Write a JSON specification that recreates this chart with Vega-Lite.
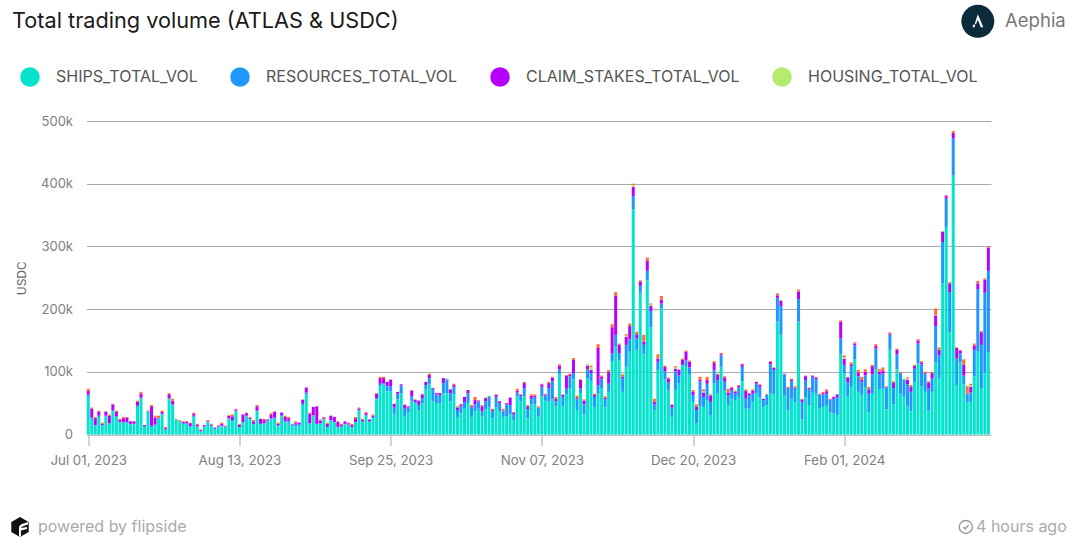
{
"$schema":"https://vega.github.io/schema/vega-lite/v6.json",
"autosize":"none",
"width":904.5,
"height":313.5,
"padding":{"left":86.5,"top":121,"right":84,"bottom":112.5},
"background":"white",
"title":{"text":"Total trading volume (ATLAS & USDC)","anchor":"start","frame":"group","dx":-74.5,"offset":-44.5,"baseline":"alphabetic","font":"Inter","fontSize":21.7,"fontWeight":"normal","color":"#1a1a1a"},
"config":{"view":{"stroke":null},"font":"Inter"},
"layer":[
{
"data":{"values":[
{"date":"2023-07-01","SHIPS":60000,"RESOURCES":4000,"CLAIM_STAKES":6000,"OTHER":3000},
{"date":"2023-07-02","SHIPS":25000,"RESOURCES":2000,"CLAIM_STAKES":14000,"OTHER":2000},
{"date":"2023-07-03","SHIPS":14000,"RESOURCES":1000,"CLAIM_STAKES":11000,"OTHER":2000},
{"date":"2023-07-04","SHIPS":28000,"RESOURCES":2000,"CLAIM_STAKES":6000,"OTHER":2000},
{"date":"2023-07-05","SHIPS":14000,"RESOURCES":1000,"CLAIM_STAKES":2000,"OTHER":2000},
{"date":"2023-07-06","SHIPS":29000,"RESOURCES":1000,"CLAIM_STAKES":6000,"OTHER":1000},
{"date":"2023-07-07","SHIPS":17000,"RESOURCES":1000,"CLAIM_STAKES":12000,"OTHER":2000},
{"date":"2023-07-08","SHIPS":37000,"RESOURCES":2000,"CLAIM_STAKES":9000,"OTHER":1000},
{"date":"2023-07-09","SHIPS":27000,"RESOURCES":2000,"CLAIM_STAKES":7000,"OTHER":2000},
{"date":"2023-07-10","SHIPS":19000,"RESOURCES":1000,"CLAIM_STAKES":3000,"OTHER":2000},
{"date":"2023-07-11","SHIPS":19000,"RESOURCES":1000,"CLAIM_STAKES":6000,"OTHER":2000},
{"date":"2023-07-12","SHIPS":19000,"RESOURCES":1000,"CLAIM_STAKES":7000,"OTHER":1000},
{"date":"2023-07-13","SHIPS":16000,"RESOURCES":1000,"CLAIM_STAKES":4000},
{"date":"2023-07-14","SHIPS":16000,"RESOURCES":1000,"CLAIM_STAKES":4000},
{"date":"2023-07-15","SHIPS":44000,"RESOURCES":2000,"CLAIM_STAKES":6000,"OTHER":2000},
{"date":"2023-07-16","SHIPS":57000,"RESOURCES":2000,"CLAIM_STAKES":6000,"OTHER":3000},
{"date":"2023-07-17","SHIPS":12000,"RESOURCES":1000,"CLAIM_STAKES":2000},
{"date":"2023-07-18","SHIPS":36000,"RESOURCES":1000,"OTHER":1000},
{"date":"2023-07-19","SHIPS":12000,"RESOURCES":2000,"CLAIM_STAKES":31000,"OTHER":2000},
{"date":"2023-07-20","SHIPS":14000,"RESOURCES":2000,"CLAIM_STAKES":11000,"OTHER":3000},
{"date":"2023-07-21","SHIPS":25000,"RESOURCES":1000,"CLAIM_STAKES":1000,"OTHER":3000},
{"date":"2023-07-22","SHIPS":32000,"RESOURCES":1000,"CLAIM_STAKES":3000,"OTHER":2000},
{"date":"2023-07-23","SHIPS":7000,"RESOURCES":1000,"CLAIM_STAKES":2000,"OTHER":2000},
{"date":"2023-07-24","SHIPS":56000,"RESOURCES":2000,"CLAIM_STAKES":6000,"OTHER":2000},
{"date":"2023-07-25","SHIPS":46000,"RESOURCES":2000,"CLAIM_STAKES":6000,"OTHER":3000},
{"date":"2023-07-26","SHIPS":24000,"OTHER":1000},
{"date":"2023-07-27","SHIPS":21000,"CLAIM_STAKES":1000,"OTHER":1000},
{"date":"2023-07-28","SHIPS":17000,"RESOURCES":1000,"CLAIM_STAKES":2000,"OTHER":1000},
{"date":"2023-07-29","SHIPS":17000,"RESOURCES":1000,"CLAIM_STAKES":2000,"OTHER":1000},
{"date":"2023-07-30","SHIPS":12000,"RESOURCES":1000,"CLAIM_STAKES":5000,"OTHER":1000},
{"date":"2023-07-31","SHIPS":28000,"RESOURCES":2000,"CLAIM_STAKES":3000,"OTHER":2000},
{"date":"2023-08-01","SHIPS":12000,"RESOURCES":1000,"CLAIM_STAKES":3000,"OTHER":1000},
{"date":"2023-08-02","SHIPS":5000,"CLAIM_STAKES":2000,"OTHER":1000},
{"date":"2023-08-03","SHIPS":12000,"RESOURCES":1000,"CLAIM_STAKES":2000},
{"date":"2023-08-04","SHIPS":19000,"RESOURCES":1000,"CLAIM_STAKES":1000,"OTHER":2000},
{"date":"2023-08-05","SHIPS":13000,"RESOURCES":1000,"CLAIM_STAKES":2000,"OTHER":1000},
{"date":"2023-08-06","SHIPS":8000,"RESOURCES":1000,"CLAIM_STAKES":2000},
{"date":"2023-08-07","SHIPS":12000,"RESOURCES":1000,"CLAIM_STAKES":1000,"OTHER":1000},
{"date":"2023-08-08","SHIPS":13000,"RESOURCES":1000,"CLAIM_STAKES":3000,"OTHER":2000},
{"date":"2023-08-09","SHIPS":11000,"RESOURCES":1000,"CLAIM_STAKES":1000,"OTHER":1000},
{"date":"2023-08-10","SHIPS":25000,"RESOURCES":1000,"CLAIM_STAKES":4000,"OTHER":1000},
{"date":"2023-08-11","SHIPS":21000,"RESOURCES":2000,"CLAIM_STAKES":6000,"OTHER":3000},
{"date":"2023-08-12","SHIPS":37000,"RESOURCES":1000,"CLAIM_STAKES":2000,"OTHER":1000},
{"date":"2023-08-13","SHIPS":11000,"RESOURCES":1000,"CLAIM_STAKES":4000,"OTHER":1000},
{"date":"2023-08-14","SHIPS":19000,"RESOURCES":1000,"CLAIM_STAKES":12000},
{"date":"2023-08-15","SHIPS":29000,"RESOURCES":1000,"CLAIM_STAKES":4000,"OTHER":1000},
{"date":"2023-08-16","SHIPS":24000,"RESOURCES":1000,"CLAIM_STAKES":2000,"OTHER":1000},
{"date":"2023-08-17","SHIPS":16000,"RESOURCES":1000,"CLAIM_STAKES":4000,"OTHER":2000},
{"date":"2023-08-18","SHIPS":37000,"RESOURCES":1000,"CLAIM_STAKES":7000,"OTHER":2000},
{"date":"2023-08-19","SHIPS":16000,"RESOURCES":1000,"CLAIM_STAKES":8000},
{"date":"2023-08-20","SHIPS":17000,"RESOURCES":1000,"CLAIM_STAKES":5000,"OTHER":2000},
{"date":"2023-08-21","SHIPS":21000,"RESOURCES":1000,"CLAIM_STAKES":2000},
{"date":"2023-08-22","SHIPS":24000,"RESOURCES":2000,"CLAIM_STAKES":6000,"OTHER":2000},
{"date":"2023-08-23","SHIPS":25000,"RESOURCES":2000,"CLAIM_STAKES":9000,"OTHER":1000},
{"date":"2023-08-24","SHIPS":13000,"RESOURCES":2000,"CLAIM_STAKES":2000,"OTHER":2000},
{"date":"2023-08-25","SHIPS":29000,"RESOURCES":2000,"CLAIM_STAKES":4000},
{"date":"2023-08-26","SHIPS":19000,"RESOURCES":2000,"CLAIM_STAKES":7000,"OTHER":2000},
{"date":"2023-08-27","SHIPS":20000,"RESOURCES":2000,"CLAIM_STAKES":4000,"OTHER":2000},
{"date":"2023-08-28","SHIPS":13000,"RESOURCES":2000,"CLAIM_STAKES":1000,"OTHER":1000},
{"date":"2023-08-29","SHIPS":13000,"RESOURCES":4000,"CLAIM_STAKES":2000,"OTHER":2000},
{"date":"2023-08-30","SHIPS":13000,"RESOURCES":3000,"CLAIM_STAKES":3000},
{"date":"2023-08-31","SHIPS":47000,"RESOURCES":2000,"CLAIM_STAKES":6000,"OTHER":1000},
{"date":"2023-09-01","SHIPS":64000,"RESOURCES":3000,"CLAIM_STAKES":8000},
{"date":"2023-09-02","SHIPS":17000,"RESOURCES":1000,"CLAIM_STAKES":15000,"OTHER":2000},
{"date":"2023-09-03","SHIPS":30000,"RESOURCES":1000,"CLAIM_STAKES":13000},
{"date":"2023-09-04","SHIPS":17000,"CLAIM_STAKES":28000},
{"date":"2023-09-05","SHIPS":17000,"RESOURCES":1000,"CLAIM_STAKES":4000,"OTHER":2000},
{"date":"2023-09-06","SHIPS":24000,"RESOURCES":1000,"CLAIM_STAKES":2000,"OTHER":1000},
{"date":"2023-09-07","SHIPS":11000,"RESOURCES":1000,"CLAIM_STAKES":5000,"OTHER":2000},
{"date":"2023-09-08","SHIPS":22000,"RESOURCES":1000,"CLAIM_STAKES":7000},
{"date":"2023-09-09","SHIPS":19000,"RESOURCES":1000,"CLAIM_STAKES":8000},
{"date":"2023-09-10","SHIPS":11000,"RESOURCES":1000,"CLAIM_STAKES":8000,"OTHER":1000},
{"date":"2023-09-11","SHIPS":12000,"RESOURCES":1000,"CLAIM_STAKES":2000,"OTHER":2000},
{"date":"2023-09-12","SHIPS":16000,"RESOURCES":1000,"CLAIM_STAKES":4000},
{"date":"2023-09-13","SHIPS":15000,"RESOURCES":1000,"CLAIM_STAKES":2000,"OTHER":1000},
{"date":"2023-09-14","SHIPS":11000,"RESOURCES":1000,"CLAIM_STAKES":3000,"OTHER":2000},
{"date":"2023-09-15","SHIPS":19000,"RESOURCES":1000,"CLAIM_STAKES":6000,"OTHER":2000},
{"date":"2023-09-16","SHIPS":38000,"RESOURCES":1000,"CLAIM_STAKES":2000,"OTHER":2000},
{"date":"2023-09-17","SHIPS":20000,"RESOURCES":1000,"CLAIM_STAKES":3000,"OTHER":1000},
{"date":"2023-09-18","SHIPS":30000,"RESOURCES":1000,"CLAIM_STAKES":3000,"OTHER":2000},
{"date":"2023-09-19","SHIPS":20000,"RESOURCES":1000,"CLAIM_STAKES":3000},
{"date":"2023-09-20","SHIPS":26000,"RESOURCES":2000,"CLAIM_STAKES":2000,"OTHER":2000},
{"date":"2023-09-21","SHIPS":56000,"RESOURCES":2000,"CLAIM_STAKES":7000,"OTHER":1000},
{"date":"2023-09-22","SHIPS":77000,"RESOURCES":4000,"CLAIM_STAKES":9000,"OTHER":2000},
{"date":"2023-09-23","SHIPS":80000,"RESOURCES":2000,"CLAIM_STAKES":8000,"OTHER":2000},
{"date":"2023-09-24","SHIPS":69000,"RESOURCES":8000,"CLAIM_STAKES":7000},
{"date":"2023-09-25","SHIPS":69000,"RESOURCES":8000,"CLAIM_STAKES":10000,"OTHER":1000},
{"date":"2023-09-26","SHIPS":32000,"RESOURCES":11000,"CLAIM_STAKES":6000},
{"date":"2023-09-27","SHIPS":56000,"RESOURCES":9000,"CLAIM_STAKES":3000},
{"date":"2023-09-28","SHIPS":66000,"RESOURCES":12000,"CLAIM_STAKES":2000},
{"date":"2023-09-29","SHIPS":29000,"RESOURCES":12000,"CLAIM_STAKES":6000,"OTHER":1000},
{"date":"2023-09-30","SHIPS":35000,"RESOURCES":8000,"CLAIM_STAKES":2000},
{"date":"2023-10-01","SHIPS":53000,"RESOURCES":8000,"CLAIM_STAKES":9000,"OTHER":1000},
{"date":"2023-10-02","SHIPS":50000,"RESOURCES":2000,"CLAIM_STAKES":3000,"OTHER":1000},
{"date":"2023-10-03","SHIPS":39000,"RESOURCES":8000,"CLAIM_STAKES":7000},
{"date":"2023-10-04","SHIPS":50000,"RESOURCES":8000,"CLAIM_STAKES":6000,"OTHER":1000},
{"date":"2023-10-05","SHIPS":72000,"RESOURCES":7000,"CLAIM_STAKES":5000},
{"date":"2023-10-06","SHIPS":80000,"RESOURCES":10000,"CLAIM_STAKES":5000,"OTHER":2000},
{"date":"2023-10-07","SHIPS":53000,"RESOURCES":19000,"CLAIM_STAKES":2000},
{"date":"2023-10-08","SHIPS":50000,"RESOURCES":14000,"CLAIM_STAKES":2000},
{"date":"2023-10-09","SHIPS":50000,"RESOURCES":12000,"CLAIM_STAKES":4000},
{"date":"2023-10-10","SHIPS":66000,"RESOURCES":16000,"CLAIM_STAKES":8000},
{"date":"2023-10-11","SHIPS":66000,"RESOURCES":22000,"HOUSING":2000},
{"date":"2023-10-12","SHIPS":53000,"RESOURCES":13000,"CLAIM_STAKES":6000},
{"date":"2023-10-13","SHIPS":64000,"RESOURCES":12000,"CLAIM_STAKES":3000,"OTHER":2000},
{"date":"2023-10-14","SHIPS":28000,"RESOURCES":11000,"CLAIM_STAKES":4000,"OTHER":2000},
{"date":"2023-10-15","SHIPS":34000,"RESOURCES":11000,"CLAIM_STAKES":3000,"OTHER":1000},
{"date":"2023-10-16","SHIPS":41000,"RESOURCES":11000,"CLAIM_STAKES":8000},
{"date":"2023-10-17","SHIPS":50000,"RESOURCES":16000,"CLAIM_STAKES":5000},
{"date":"2023-10-18","SHIPS":28000,"RESOURCES":15000,"CLAIM_STAKES":2000,"OTHER":2000},
{"date":"2023-10-19","SHIPS":37000,"RESOURCES":11000,"CLAIM_STAKES":7000,"OTHER":5000},
{"date":"2023-10-20","SHIPS":41000,"RESOURCES":12000,"CLAIM_STAKES":1000,"OTHER":1000},
{"date":"2023-10-21","SHIPS":29000,"RESOURCES":8000,"CLAIM_STAKES":8000,"OTHER":2000},
{"date":"2023-10-22","SHIPS":40000,"RESOURCES":13000,"CLAIM_STAKES":5000,"OTHER":1000},
{"date":"2023-10-23","SHIPS":43000,"RESOURCES":18000},
{"date":"2023-10-24","SHIPS":26000,"RESOURCES":11000,"CLAIM_STAKES":2000,"OTHER":2000},
{"date":"2023-10-25","SHIPS":43000,"RESOURCES":17000,"CLAIM_STAKES":3000,"OTHER":1000},
{"date":"2023-10-26","SHIPS":37000,"RESOURCES":13000,"CLAIM_STAKES":3000},
{"date":"2023-10-27","SHIPS":28000,"RESOURCES":9000,"CLAIM_STAKES":1000,"OTHER":3000},
{"date":"2023-10-28","SHIPS":29000,"RESOURCES":19000,"CLAIM_STAKES":2000},
{"date":"2023-10-29","SHIPS":32000,"RESOURCES":15000,"CLAIM_STAKES":12000},
{"date":"2023-10-30","SHIPS":23000,"RESOURCES":9000,"CLAIM_STAKES":3000,"OTHER":1000},
{"date":"2023-10-31","SHIPS":61000,"RESOURCES":6000,"CLAIM_STAKES":3000,"OTHER":3000},
{"date":"2023-11-01","SHIPS":53000,"RESOURCES":8000,"CLAIM_STAKES":2000,"OTHER":1000},
{"date":"2023-11-02","SHIPS":61000,"RESOURCES":13000,"CLAIM_STAKES":8000,"OTHER":2000},
{"date":"2023-11-03","SHIPS":26000,"RESOURCES":14000,"CLAIM_STAKES":5000,"OTHER":2000},
{"date":"2023-11-04","SHIPS":48000,"RESOURCES":9000,"CLAIM_STAKES":5000,"OTHER":2000},
{"date":"2023-11-05","SHIPS":48000,"RESOURCES":12000,"CLAIM_STAKES":2000,"OTHER":2000},
{"date":"2023-11-06","SHIPS":29000,"RESOURCES":13000,"CLAIM_STAKES":1000,"OTHER":2000},
{"date":"2023-11-07","SHIPS":61000,"RESOURCES":15000,"CLAIM_STAKES":4000,"OTHER":1000},
{"date":"2023-11-08","SHIPS":54000,"RESOURCES":8000,"CLAIM_STAKES":2000,"OTHER":1000},
{"date":"2023-11-09","SHIPS":53000,"RESOURCES":21000,"CLAIM_STAKES":8000,"OTHER":2000},
{"date":"2023-11-10","SHIPS":56000,"RESOURCES":29000,"CLAIM_STAKES":6000,"OTHER":1000},
{"date":"2023-11-11","SHIPS":45000,"RESOURCES":8000,"CLAIM_STAKES":4000,"OTHER":3000},
{"date":"2023-11-12","SHIPS":96000,"RESOURCES":8000,"CLAIM_STAKES":6000,"OTHER":2000},
{"date":"2023-11-13","SHIPS":45000,"RESOURCES":15000,"CLAIM_STAKES":3000,"OTHER":1000},
{"date":"2023-11-14","SHIPS":64000,"RESOURCES":9000,"CLAIM_STAKES":21000,"OTHER":1000},
{"date":"2023-11-15","SHIPS":74000,"RESOURCES":19000,"CLAIM_STAKES":3000,"OTHER":1000},
{"date":"2023-11-16","SHIPS":88000,"RESOURCES":10000,"CLAIM_STAKES":21000,"OTHER":3000},
{"date":"2023-11-17","SHIPS":39000,"RESOURCES":17000,"CLAIM_STAKES":2000,"OTHER":4000},
{"date":"2023-11-18","SHIPS":66000,"RESOURCES":8000,"CLAIM_STAKES":13000,"OTHER":1000},
{"date":"2023-11-19","SHIPS":32000,"RESOURCES":16000,"CLAIM_STAKES":6000,"OTHER":2000},
{"date":"2023-11-20","SHIPS":90000,"RESOURCES":14000,"CLAIM_STAKES":6000,"HOUSING":3000},
{"date":"2023-11-21","SHIPS":85000,"RESOURCES":13000,"CLAIM_STAKES":5000,"HOUSING":5000,"OTHER":2000},
{"date":"2023-11-22","SHIPS":44000,"RESOURCES":16000,"CLAIM_STAKES":3000,"OTHER":2000},
{"date":"2023-11-23","SHIPS":65000,"RESOURCES":14000,"CLAIM_STAKES":59000,"OTHER":6000},
{"date":"2023-11-24","SHIPS":74000,"RESOURCES":15000,"CLAIM_STAKES":3000,"OTHER":2000},
{"date":"2023-11-25","SHIPS":43000,"RESOURCES":13000,"CLAIM_STAKES":3000,"OTHER":2000},
{"date":"2023-11-26","SHIPS":68000,"RESOURCES":13000,"CLAIM_STAKES":19000,"OTHER":3000},
{"date":"2023-11-27","SHIPS":116000,"RESOURCES":13000,"CLAIM_STAKES":42000,"OTHER":5000},
{"date":"2023-11-28","SHIPS":141000,"RESOURCES":18000,"CLAIM_STAKES":62000,"OTHER":6000},
{"date":"2023-11-29","SHIPS":118000,"RESOURCES":12000,"CLAIM_STAKES":13000,"OTHER":2000},
{"date":"2023-11-30","SHIPS":68000,"RESOURCES":21000,"CLAIM_STAKES":3000,"OTHER":4000},
{"date":"2023-12-01","SHIPS":108000,"RESOURCES":35000,"CLAIM_STAKES":13000,"HOUSING":2000,"OTHER":2000},
{"date":"2023-12-02","SHIPS":133000,"RESOURCES":19000,"CLAIM_STAKES":21000,"OTHER":4000},
{"date":"2023-12-03","SHIPS":359000,"RESOURCES":21000,"CLAIM_STAKES":15000,"HOUSING":3000,"OTHER":2000},
{"date":"2023-12-04","SHIPS":135000,"RESOURCES":18000,"CLAIM_STAKES":7000,"OTHER":4000},
{"date":"2023-12-05","SHIPS":225000,"RESOURCES":12000,"CLAIM_STAKES":7000,"OTHER":2000},
{"date":"2023-12-06","SHIPS":128000,"RESOURCES":15000,"CLAIM_STAKES":5000,"OTHER":11000},
{"date":"2023-12-07","SHIPS":246000,"RESOURCES":15000,"CLAIM_STAKES":16000,"OTHER":5000},
{"date":"2023-12-08","SHIPS":171000,"RESOURCES":26000,"CLAIM_STAKES":8000,"HOUSING":2000,"OTHER":2000},
{"date":"2023-12-09","SHIPS":39000,"RESOURCES":9000,"CLAIM_STAKES":4000,"OTHER":5000},
{"date":"2023-12-10","SHIPS":103000,"RESOURCES":13000,"CLAIM_STAKES":5000,"OTHER":7000},
{"date":"2023-12-11","SHIPS":201000,"RESOURCES":8000,"CLAIM_STAKES":6000,"OTHER":6000},
{"date":"2023-12-12","SHIPS":88000,"RESOURCES":13000,"CLAIM_STAKES":7000,"OTHER":2000},
{"date":"2023-12-13","SHIPS":70000,"RESOURCES":13000,"CLAIM_STAKES":6000,"OTHER":2000},
{"date":"2023-12-14","SHIPS":28000,"RESOURCES":15000,"CLAIM_STAKES":4000,"OTHER":1000},
{"date":"2023-12-15","SHIPS":71000,"RESOURCES":30000,"CLAIM_STAKES":4000,"HOUSING":2000,"OTHER":2000},
{"date":"2023-12-16","SHIPS":82000,"RESOURCES":12000,"CLAIM_STAKES":9000,"OTHER":1000},
{"date":"2023-12-17","SHIPS":110000,"RESOURCES":1000,"CLAIM_STAKES":8000,"OTHER":2000},
{"date":"2023-12-18","SHIPS":108000,"RESOURCES":10000,"CLAIM_STAKES":14000,"OTHER":2000},
{"date":"2023-12-19","SHIPS":96000,"RESOURCES":11000,"CLAIM_STAKES":9000,"OTHER":2000},
{"date":"2023-12-20","SHIPS":52000,"RESOURCES":11000,"CLAIM_STAKES":5000,"OTHER":3000},
{"date":"2023-12-21","SHIPS":18000,"RESOURCES":21000,"CLAIM_STAKES":5000,"OTHER":4000},
{"date":"2023-12-22","SHIPS":45000,"RESOURCES":40000,"CLAIM_STAKES":2000,"OTHER":5000},
{"date":"2023-12-23","SHIPS":44000,"RESOURCES":16000,"CLAIM_STAKES":7000,"HOUSING":2000,"OTHER":3000},
{"date":"2023-12-24","SHIPS":55000,"RESOURCES":26000,"CLAIM_STAKES":6000,"OTHER":5000},
{"date":"2023-12-25","SHIPS":31000,"RESOURCES":21000,"CLAIM_STAKES":10000,"OTHER":2000},
{"date":"2023-12-26","SHIPS":81000,"RESOURCES":22000,"CLAIM_STAKES":11000,"OTHER":3000},
{"date":"2023-12-27","SHIPS":65000,"RESOURCES":22000,"CLAIM_STAKES":8000,"OTHER":2000},
{"date":"2023-12-28","SHIPS":108000,"RESOURCES":18000,"CLAIM_STAKES":2000,"OTHER":2000},
{"date":"2023-12-29","SHIPS":70000,"RESOURCES":14000,"CLAIM_STAKES":7000,"OTHER":2000},
{"date":"2023-12-30","SHIPS":47000,"RESOURCES":16000,"CLAIM_STAKES":4000,"OTHER":6000},
{"date":"2023-12-31","SHIPS":57000,"RESOURCES":14000,"CLAIM_STAKES":4000,"OTHER":1000},
{"date":"2024-01-01","SHIPS":55000,"RESOURCES":10000,"CLAIM_STAKES":3000,"OTHER":2000},
{"date":"2024-01-02","SHIPS":60000,"RESOURCES":15000,"CLAIM_STAKES":3000,"OTHER":1000},
{"date":"2024-01-03","SHIPS":85000,"RESOURCES":23000,"CLAIM_STAKES":4000,"OTHER":1000},
{"date":"2024-01-04","SHIPS":41000,"RESOURCES":16000,"CLAIM_STAKES":13000,"OTHER":2000},
{"date":"2024-01-05","SHIPS":41000,"RESOURCES":22000,"CLAIM_STAKES":2000,"OTHER":1000},
{"date":"2024-01-06","SHIPS":52000,"RESOURCES":13000,"CLAIM_STAKES":5000,"OTHER":2000},
{"date":"2024-01-07","SHIPS":65000,"RESOURCES":16000,"CLAIM_STAKES":3000},
{"date":"2024-01-08","SHIPS":59000,"RESOURCES":17000,"CLAIM_STAKES":3000,"OTHER":1000},
{"date":"2024-01-09","SHIPS":44000,"RESOURCES":11000,"CLAIM_STAKES":2000},
{"date":"2024-01-10","SHIPS":47000,"RESOURCES":16000,"CLAIM_STAKES":1000,"HOUSING":1000},
{"date":"2024-01-11","SHIPS":65000,"RESOURCES":47000,"CLAIM_STAKES":4000,"OTHER":1000},
{"date":"2024-01-12","SHIPS":64000,"RESOURCES":39000,"CLAIM_STAKES":3000,"OTHER":1000},
{"date":"2024-01-13","SHIPS":180000,"RESOURCES":38000,"CLAIM_STAKES":4000,"OTHER":3000},
{"date":"2024-01-14","SHIPS":159000,"RESOURCES":46000,"CLAIM_STAKES":8000,"OTHER":1000},
{"date":"2024-01-15","SHIPS":63000,"RESOURCES":32000,"CLAIM_STAKES":1000,"OTHER":1000},
{"date":"2024-01-16","SHIPS":38000,"RESOURCES":35000,"CLAIM_STAKES":1000,"OTHER":2000},
{"date":"2024-01-17","SHIPS":57000,"RESOURCES":28000,"CLAIM_STAKES":2000,"OTHER":2000},
{"date":"2024-01-18","SHIPS":51000,"RESOURCES":22000,"CLAIM_STAKES":2000,"OTHER":2000},
{"date":"2024-01-19","SHIPS":180000,"RESOURCES":36000,"CLAIM_STAKES":12000,"OTHER":3000},
{"date":"2024-01-20","SHIPS":24000,"RESOURCES":28000,"CLAIM_STAKES":4000,"OTHER":1000},
{"date":"2024-01-21","SHIPS":59000,"RESOURCES":28000,"CLAIM_STAKES":6000,"OTHER":1000},
{"date":"2024-01-22","SHIPS":47000,"RESOURCES":25000,"CLAIM_STAKES":2000,"OTHER":1000},
{"date":"2024-01-23","SHIPS":68000,"RESOURCES":24000,"CLAIM_STAKES":2000},
{"date":"2024-01-24","SHIPS":65000,"RESOURCES":23000,"CLAIM_STAKES":3000,"OTHER":1000},
{"date":"2024-01-25","SHIPS":41000,"RESOURCES":22000,"CLAIM_STAKES":1000,"OTHER":1000},
{"date":"2024-01-26","SHIPS":44000,"RESOURCES":20000,"CLAIM_STAKES":2000,"OTHER":2000},
{"date":"2024-01-27","SHIPS":47000,"RESOURCES":18000,"CLAIM_STAKES":4000,"OTHER":3000},
{"date":"2024-01-28","SHIPS":35000,"RESOURCES":20000,"CLAIM_STAKES":1000,"OTHER":1000},
{"date":"2024-01-29","SHIPS":34000,"RESOURCES":23000,"CLAIM_STAKES":3000},
{"date":"2024-01-30","SHIPS":31000,"RESOURCES":28000,"CLAIM_STAKES":5000},
{"date":"2024-01-31","SHIPS":128000,"RESOURCES":25000,"CLAIM_STAKES":27000,"OTHER":2000},
{"date":"2024-02-01","SHIPS":97000,"RESOURCES":14000,"CLAIM_STAKES":10000,"HOUSING":2000,"OTHER":3000},
{"date":"2024-02-02","SHIPS":61000,"RESOURCES":22000,"CLAIM_STAKES":8000,"OTHER":1000},
{"date":"2024-02-03","SHIPS":76000,"RESOURCES":33000,"CLAIM_STAKES":3000,"OTHER":3000},
{"date":"2024-02-04","SHIPS":120000,"RESOURCES":22000,"CLAIM_STAKES":3000,"OTHER":2000},
{"date":"2024-02-05","SHIPS":68000,"RESOURCES":25000,"CLAIM_STAKES":6000,"OTHER":4000},
{"date":"2024-02-06","SHIPS":63000,"RESOURCES":21000,"CLAIM_STAKES":3000,"OTHER":5000},
{"date":"2024-02-07","SHIPS":76000,"RESOURCES":18000,"CLAIM_STAKES":6000,"OTHER":4000},
{"date":"2024-02-08","SHIPS":35000,"RESOURCES":30000,"CLAIM_STAKES":7000,"OTHER":4000},
{"date":"2024-02-09","SHIPS":65000,"RESOURCES":31000,"CLAIM_STAKES":13000,"OTHER":2000},
{"date":"2024-02-10","SHIPS":104000,"RESOURCES":33000,"CLAIM_STAKES":4000,"OTHER":3000},
{"date":"2024-02-11","SHIPS":72000,"RESOURCES":24000,"CLAIM_STAKES":4000,"OTHER":4000},
{"date":"2024-02-12","SHIPS":73000,"RESOURCES":24000,"CLAIM_STAKES":5000,"OTHER":5000},
{"date":"2024-02-13","SHIPS":40000,"RESOURCES":35000,"CLAIM_STAKES":1000,"OTHER":1000},
{"date":"2024-02-14","SHIPS":135000,"RESOURCES":24000,"CLAIM_STAKES":2000,"OTHER":2000},
{"date":"2024-02-15","SHIPS":48000,"RESOURCES":26000,"CLAIM_STAKES":9000,"OTHER":2000},
{"date":"2024-02-16","SHIPS":104000,"RESOURCES":24000,"CLAIM_STAKES":7000,"OTHER":2000},
{"date":"2024-02-17","SHIPS":65000,"RESOURCES":32000,"CLAIM_STAKES":1000,"OTHER":2000},
{"date":"2024-02-18","SHIPS":60000,"RESOURCES":28000,"HOUSING":1000},
{"date":"2024-02-19","SHIPS":45000,"RESOURCES":35000,"CLAIM_STAKES":7000,"HOUSING":2000,"OTHER":2000},
{"date":"2024-02-20","SHIPS":37000,"RESOURCES":31000,"CLAIM_STAKES":8000,"OTHER":3000},
{"date":"2024-02-21","SHIPS":84000,"RESOURCES":21000,"CLAIM_STAKES":4000,"OTHER":2000},
{"date":"2024-02-22","SHIPS":113000,"RESOURCES":32000,"CLAIM_STAKES":5000,"OTHER":2000},
{"date":"2024-02-23","SHIPS":77000,"RESOURCES":35000,"CLAIM_STAKES":3000,"OTHER":2000},
{"date":"2024-02-24","SHIPS":68000,"RESOURCES":29000,"CLAIM_STAKES":1000,"OTHER":2000},
{"date":"2024-02-25","SHIPS":38000,"RESOURCES":36000,"CLAIM_STAKES":9000,"OTHER":2000},
{"date":"2024-02-26","SHIPS":68000,"RESOURCES":21000,"CLAIM_STAKES":9000,"OTHER":2000},
{"date":"2024-02-27","SHIPS":115000,"RESOURCES":58000,"CLAIM_STAKES":17000,"HOUSING":1000,"OTHER":10000},
{"date":"2024-02-28","SHIPS":89000,"RESOURCES":37000,"CLAIM_STAKES":9000,"OTHER":4000},
{"date":"2024-02-29","SHIPS":241000,"RESOURCES":66000,"CLAIM_STAKES":16000,"OTHER":1000},
{"date":"2024-03-01","SHIPS":331000,"RESOURCES":45000,"CLAIM_STAKES":4000,"OTHER":2000},
{"date":"2024-03-02","SHIPS":163000,"RESOURCES":64000,"CLAIM_STAKES":14000,"OTHER":2000},
{"date":"2024-03-03","SHIPS":413000,"RESOURCES":59000,"CLAIM_STAKES":9000,"OTHER":3000},
{"date":"2024-03-04","SHIPS":79000,"RESOURCES":42000,"CLAIM_STAKES":17000,"OTHER":1000},
{"date":"2024-03-05","SHIPS":115000,"RESOURCES":14000,"CLAIM_STAKES":5000,"OTHER":1000},
{"date":"2024-03-06","SHIPS":80000,"RESOURCES":14000,"CLAIM_STAKES":17000,"OTHER":9000},
{"date":"2024-03-07","SHIPS":52000,"RESOURCES":12000,"CLAIM_STAKES":1000,"OTHER":12000},
{"date":"2024-03-08","SHIPS":52000,"RESOURCES":15000,"CLAIM_STAKES":9000,"HOUSING":2000,"OTHER":3000},
{"date":"2024-03-09","SHIPS":93000,"RESOURCES":42000,"CLAIM_STAKES":7000,"OTHER":3000},
{"date":"2024-03-10","SHIPS":133000,"RESOURCES":99000,"CLAIM_STAKES":9000,"OTHER":4000},
{"date":"2024-03-11","SHIPS":74000,"RESOURCES":69000,"CLAIM_STAKES":20000,"OTHER":2000},
{"date":"2024-03-12","SHIPS":99000,"RESOURCES":127000,"CLAIM_STAKES":21000,"OTHER":2000},
{"date":"2024-03-13","SHIPS":131000,"RESOURCES":130000,"CLAIM_STAKES":37000,"OTHER":2000}
]},
"transform":[
{"fold":["SHIPS","RESOURCES","CLAIM_STAKES","HOUSING","OTHER"],"as":["series","vol"]},
{"filter":"datum.vol != null"},
{"lookup":"series","from":{"data":{"values":[{"series":"SHIPS","rank":1},{"series":"RESOURCES","rank":2},{"series":"CLAIM_STAKES","rank":3},{"series":"HOUSING","rank":4},{"series":"OTHER","rank":5}]},"key":"series","fields":["rank"]}}
],
"mark":{"type":"bar","width":3},
"encoding":{
"x":{"field":"date","type":"temporal","scale":{"type":"utc","padding":0,"domain":[{"year":2023,"month":6,"date":30,"hours":12,"utc":true},{"year":2024,"month":3,"date":13,"hours":18,"utc":true}]},
"axis":{"values":[{"year":2023,"month":7,"date":1,"utc":true},{"year":2023,"month":8,"date":13,"utc":true},{"year":2023,"month":9,"date":25,"utc":true},{"year":2023,"month":11,"date":7,"utc":true},{"year":2023,"month":12,"date":20,"utc":true},{"year":2024,"month":2,"date":1,"utc":true}],"format":"%b %d, %Y","title":null,"grid":false,"labelFont":"Inter","labelFontSize":13.3,"labelColor":"#808080","labelPadding":8,"tickColor":"#aaaaaa","tickSize":11,"domainColor":"#cfd6d6","labelOverlap":false}},
"y":{"field":"vol","type":"quantitative","stack":"zero","scale":{"domain":[0,500000]},
"axis":{"values":[0,100000,200000,300000,400000,500000],"labelExpr":"datum.value === 0 ? '0' : format(datum.value, '~s')","title":"USDC","titleFont":"Inter","titleFontSize":12,"titleFontWeight":"normal","titleColor":"#666666","titlePadding":12,"labelFont":"Inter","labelFontSize":13,"labelColor":"#808080","labelPadding":14,"ticks":false,"domain":false,"grid":true,"gridColor":"#aaaaaa","gridWidth":1}},
"color":{"field":"series","type":"nominal","scale":{"domain":["SHIPS","RESOURCES","CLAIM_STAKES","HOUSING","OTHER"],"range":["#04e3cc","#1e98ff","#b800ff","#b6ec6e","#ff6a35"]},
"legend":{"orient":"none","legendX":-66.5,"legendY":-54,"direction":"horizontal","columns":4,"gridAlign":"none","title":null,"values":["SHIPS","RESOURCES","CLAIM_STAKES","HOUSING"],"labelExpr":"datum.label + '_TOTAL_VOL'","symbolType":"circle","symbolSize":380,"symbolStrokeWidth":0,"symbolOpacity":1,"labelFont":"Inter","labelFontSize":16,"labelColor":"#555555","labelOffset":16,"columnPadding":32,"labelLimit":300}},
"order":{"field":"rank","type":"quantitative"}
}
},
{"data":{"values":[{"label":"Aephia"}]},"mark":{"type":"text","align":"left","baseline":"middle","font":"Inter","fontSize":18.5,"color":"#777777"},"encoding":{"x":{"datum":{"year":2024,"month":3,"date":17,"hours":18,"utc":true},"type":"temporal"},"y":{"datum":659000},"text":{"field":"label"}}},
{"data":{"values":[{"label":"logo"}]},"mark":{"type":"point","shape":"circle","filled":true,"opacity":1,"color":"#0b2a3a","size":1089},"encoding":{"x":{"datum":{"year":2024,"month":3,"date":10,"utc":true},"type":"temporal"},"y":{"datum":659000}}},
{"data":{"values":[{"label":"logo"}]},"mark":{"type":"point","shape":"M0,-0.7 L0.55,0.6 L0.3,0.6 L0,-0.15 L-0.18,0.3 L-0.32,0.3 Z M-0.5,0.35 L-0.3,0.35 L-0.3,0.6 L-0.5,0.6 Z","filled":true,"opacity":1,"color":"#ffffff","size":400},"encoding":{"x":{"datum":{"year":2024,"month":3,"date":10,"utc":true},"type":"temporal"},"y":{"datum":659000}}},
{"data":{"values":[{"label":"powered by flipside"}]},"mark":{"type":"text","align":"left","baseline":"middle","font":"Inter","fontSize":16,"color":"#aaaaaa"},"encoding":{"x":{"datum":{"year":2023,"month":6,"date":16,"hours":17,"utc":true},"type":"temporal"},"y":{"datum":-147500},"text":{"field":"label"}}},
{"data":{"values":[{"label":"flipside"}]},"mark":{"type":"point","shape":"M0,-1 L0.87,-0.5 L0.87,0.5 L0,1 L-0.87,0.5 L-0.87,-0.5 Z","filled":true,"opacity":1,"color":"#111111","size":400},"encoding":{"x":{"datum":{"year":2023,"month":6,"date":11,"hours":14,"utc":true},"type":"temporal"},"y":{"datum":-147500}}},
{"data":{"values":[{"label":"flipside"}]},"mark":{"type":"point","shape":"M-0.1,1 L-0.1,0.1 Q-0.1,-0.2 0.2,-0.3 L0.8,-0.5 L0.8,-0.25 L0.25,-0.05 Q0.1,0 0.1,0.1 L0.7,0 L0.7,0.2 L0.1,0.35 L0.1,0.9 Z","filled":true,"opacity":1,"color":"#ffffff","size":400},"encoding":{"x":{"datum":{"year":2023,"month":6,"date":11,"hours":14,"utc":true},"type":"temporal"},"y":{"datum":-147500}}},
{"data":{"values":[{"label":"4 hours ago"}]},"mark":{"type":"text","align":"left","baseline":"middle","font":"Inter","fontSize":16,"color":"#aaaaaa"},"encoding":{"x":{"datum":{"year":2024,"month":3,"date":9,"hours":12,"utc":true},"type":"temporal"},"y":{"datum":-147500},"text":{"field":"label"}}},
{"data":{"values":[{"label":"clock"}]},"mark":{"type":"point","shape":"circle","filled":false,"opacity":1,"color":"#999999","strokeWidth":1.4,"size":170},"encoding":{"x":{"datum":{"year":2024,"month":3,"date":6,"hours":14,"utc":true},"type":"temporal"},"y":{"datum":-147500}}},
{"data":{"values":[{"label":"clock"}]},"mark":{"type":"point","shape":"M-0.6,0 L-0.15,0.45 L0.7,-0.5","filled":false,"opacity":1,"color":"#999999","strokeWidth":1.4,"size":70},"encoding":{"x":{"datum":{"year":2024,"month":3,"date":6,"hours":14,"utc":true},"type":"temporal"},"y":{"datum":-147500}}}
]
}
